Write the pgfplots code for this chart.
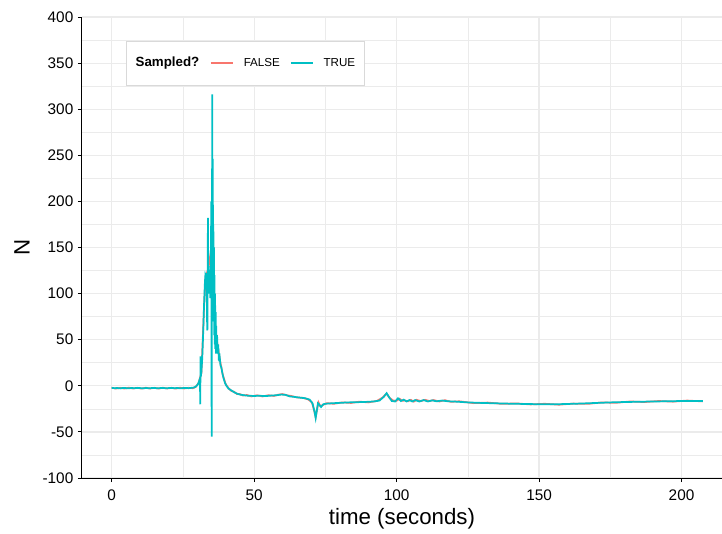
\documentclass[border=0pt]{standalone}
\usepackage{pgfplots}
\pgfplotsset{compat=1.18}
\usepackage{fontspec}
\setmainfont{Liberation Sans}
\definecolor{cfalse}{HTML}{F8766D}
\definecolor{ctrue}{HTML}{00BFC4}
\definecolor{gridc}{HTML}{EBEBEB}
\begin{document}
\begin{tikzpicture}
\path[use as bounding box] (-61.5pt,-41.25pt) rectangle (480pt,358.5pt);
\begin{axis}[
 at={(0,0)}, anchor=south west,
 scale only axis, width=480pt, height=345.75pt,
 xmin=-10.4, xmax=214.2, ymin=-100, ymax=400,
 axis x line*=bottom, axis y line*=left,
 axis line style={line width=0.75pt, black, -},
 xtick={0,50,...,200}, minor xtick={25,75,125,175},
 ytick={-100,-50,...,400}, minor ytick={-75,-25,...,375},
 tick align=outside, major tick length=3pt, minor tick length=0pt,
 tick style={black, line width=0.75pt},
 grid=both, major grid style={gridc, line width=0.9pt}, minor grid style={gridc, line width=0.45pt},
 /pgf/number format/assume math mode=true,
 ticklabel style={font=\fontsize{11.5}{13}\selectfont},
 xticklabel style={yshift=-2pt},
 xlabel={time (seconds)}, ylabel={N},
 label style={font=\fontsize{16.7}{19}\selectfont},
 xlabel style={at={(axis description cs:0.5,-0.0889)}, anchor=center},
 ylabel style={at={(axis description cs:-0.09375,0.5)}, anchor=center},
 legend style={at={(axis description cs:0.06875,0.948)}, anchor=north west,
   draw=black!15, fill=white, line width=0.5pt,
   font=\fontsize{8.7}{10}\selectfont,
   inner xsep=7pt, inner ysep=12pt,
   nodes={inner sep=0pt},
   /tikz/column 1/.style={column sep=0pt},
   /tikz/column 2/.style={column sep=8pt},
   /tikz/column 3/.style={column sep=7.5pt},
   /tikz/column 4/.style={column sep=7.5pt},
   /tikz/column 5/.style={column sep=7.5pt},
   /tikz/column 6/.style={column sep=0pt}},
 legend columns=-1,
 legend image code/.code={\draw[#1] (0pt,0pt) -- (16.5pt,0pt);},
]
\addlegendimage{empty legend}
\addlegendentry{\fontsize{10}{12}\selectfont\bfseries Sampled?}
\addplot[cfalse, line width=1.3pt] coordinates {
(0,-2.0)(1.5,-3.0)(3,-2.2)(4.5,-3.0)(6,-2.1)(7.5,-2.9)(9,-2.2)(10.5,-3.0)(12,-2.1)(13.5,-2.9)(15,-2.2)(16.5,-3.0)(18,-2.1)(19.5,-2.9)(21,-2.2)(22.5,-3.0)(24,-2.1)(25.5,-2.9)(27,-2.2)(28.5,-2.6)(29.5,-1.2)(30.5,3)(31.5,14)(32.5,90)(33,118)(34,128)(35,150)(35.5,140)(36,80)(36.5,60)(37,48)(38,28)(39,12)(40,2)(41,-2.5)(42,-5.5)(43,-6.5)(44,-9)(45,-9)(46,-10.5)(47.5,-10)(49,-11.5)(51,-10.3)(53,-11.5)(55,-10.2)(57,-11)(58.5,-9.6)(60,-9)(61.5,-10.3)(63,-11)(65,-12.6)(67,-13)(69,-14.8)(70.3,-18)(71,-26)(71.6,-34)(72.2,-24)(72.6,-18)(73.2,-22)(74,-21)(75.5,-18.8)(78,-19.5)(81,-18)(84,-18.6)(87,-17.2)(90,-18)(93,-16.5)(95,-13)(96.5,-8.5)(97.5,-13)(98.8,-16)(100,-16.2)(101,-14)(102,-16.2)(103,-16)(104,-16.8)(105,-15.2)(106,-17.2)(107,-15.2)(108.5,-16.6)(110,-15.2)(111.5,-16.5)(113,-15.5)(115,-17)(117,-15.6)(119,-17.4)(122,-16.8)(127,-18.8)(132,-18.2)(137,-19.6)(142,-19.1)(147,-20.2)(152,-19.5)(157,-20.5)(162,-19.3)(167,-19.6)(172,-18.1)(177,-18.4)(182,-17)(187,-17.6)(192,-16.5)(197,-17.2)(202,-16)(207.5,-16.9)
};
\addlegendentry{FALSE}
\addplot[ctrue, line width=1.3pt] coordinates {
(0,-2.2)(1,-2.6)(2,-2.4)(3,-2.8)(4,-2.3)(5,-2.5)(6,-2.7)(7,-2.4)(8,-2.6)(9,-2.3)(10,-2.5)(11,-2.8)(12,-2.4)(13,-2.6)(14,-2.5)(15,-2.3)(16,-2.7)(17,-2.5)(18,-2.4)(19,-2.6)(20,-2.5)(21,-2.3)(22,-2.6)(23,-2.4)(24,-2.7)(25,-2.5)(26,-2.3)(27,-2.6)(28,-2.2)(29,-1.8)(29.5,-1.0)(30,0.5)(30.4,2.5)(30.7,5)(31.0,8)(31.1,-20)(31.2,32)(31.3,10)(31.5,15)(31.8,30)(32.1,55)(32.4,85)(32.7,110)(32.9,120)(33.1,118)(33.3,122)(33.5,70)(33.6,60)(33.7,125)(33.8,182)(33.9,100)(34.0,130)(34.2,110)(34.4,125)(34.6,95)(34.8,140)(35.0,200)(35.1,-55)(35.2,100)(35.3,316)(35.4,140)(35.5,246)(35.6,90)(35.7,175)(35.8,70)(35.9,150)(36.0,55)(36.1,120)(36.2,45)(36.3,100)(36.4,40)(36.5,80)(36.6,35)(36.7,65)(36.8,40)(37.0,55)(37.2,35)(37.4,45)(37.6,30)(37.9,32)(38.2,22)(38.5,20)(38.9,13)(39.3,8)(39.8,3)(40.3,0)(41,-3)(42,-5)(43,-7)(44,-8.5)(45,-9.5)(46,-10)(47,-10.5)(48,-10.8)(50,-11)(52,-10.8)(54,-11.2)(56,-10.6)(58,-10.2)(59.5,-9.5)(61,-9.8)(62.5,-11.5)(64,-12)(66,-12.8)(68,-13.5)(69.5,-15)(70.5,-19)(71.2,-28)(71.6,-35)(72.0,-27)(72.4,-19)(73.0,-21)(73.5,-23)(74.3,-20)(75,-19.5)(77,-19)(80,-18.5)(83,-18)(86,-17.8)(89,-17.5)(92,-17)(94,-16)(95.5,-12)(96.5,-8)(97.3,-12)(98.3,-16.5)(99.5,-17)(100.5,-13.5)(101.5,-16.5)(102.5,-15)(103.5,-17)(104.5,-15.5)(105.5,-17)(106.5,-15.5)(108,-17)(109.5,-15.5)(111,-17)(112.5,-15.8)(114,-16.8)(116,-16)(118,-16.8)(120,-17)(125,-18)(130,-18.6)(135,-19)(140,-19.4)(145,-19.7)(150,-20)(155,-20.1)(160,-19.7)(165,-19.2)(170,-18.6)(175,-18)(180,-17.6)(185,-17.3)(190,-17)(195,-16.8)(200,-16.5)(205,-16.4)(207.5,-16.5)
};
\addlegendentry{TRUE}
\end{axis}
\end{tikzpicture}
\end{document}
